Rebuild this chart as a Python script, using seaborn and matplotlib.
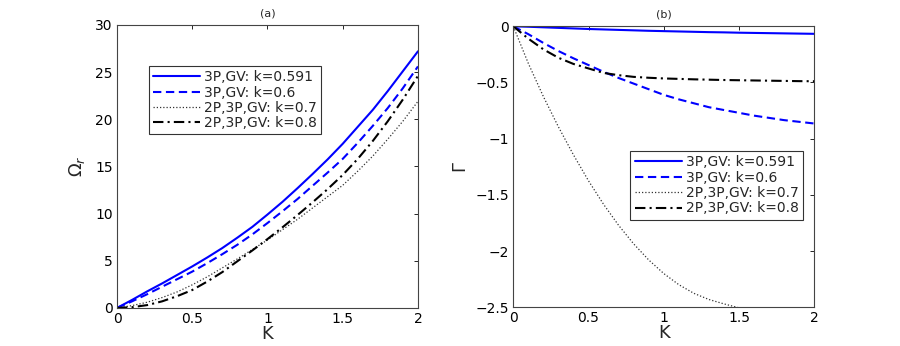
import numpy as np
import pandas as pd
import matplotlib
matplotlib.use('Agg')
import matplotlib.pyplot as plt
import seaborn as sns
from matplotlib.ticker import FuncFormatter

# K values (shared x axis)
K = [0.0, 0.1, 0.2, 0.3, 0.4, 0.5, 0.6, 0.7, 0.8, 0.9, 1.0,
     1.1, 1.2, 1.3, 1.4, 1.5, 1.6, 1.7, 1.8, 1.9, 2.0]

labels = ['3P,GV: k=0.591', '3P,GV: k=0.6', '2P,3P,GV: k=0.7', '2P,3P,GV: k=0.8']

# panel (a): Omega_r
omega_591 = [0, 0.85, 1.75, 2.6, 3.5, 4.4, 5.35, 6.35, 7.45, 8.6, 9.9,
             11.25, 12.7, 14.2, 15.75, 17.4, 19.2, 21.0, 23.0, 25.1, 27.2]
omega_06 = [0, 0.7, 1.45, 2.25, 3.05, 3.85, 4.75, 5.7, 6.7, 7.8, 9.0,
            10.25, 11.55, 12.95, 14.35, 15.8, 17.5, 19.3, 21.2, 23.3, 25.6]
omega_07 = [0, 0.25, 0.6, 1.1, 1.7, 2.45, 3.3, 4.25, 5.2, 6.2, 7.2,
            8.3, 9.4, 10.6, 11.8, 13.0, 14.5, 16.1, 17.9, 19.8, 21.9]
omega_08 = [0, 0.08, 0.3, 0.7, 1.25, 1.9, 2.8, 3.8, 4.95, 6.1, 7.3,
            8.55, 9.85, 11.2, 12.6, 14.1, 15.8, 17.7, 19.8, 22.1, 24.6]

# panel (b): Gamma
gamma_591 = [0, -0.004, -0.009, -0.014, -0.019, -0.024, -0.028, -0.032, -0.036, -0.040, -0.043,
             -0.046, -0.049, -0.052, -0.054, -0.057, -0.059, -0.061, -0.063, -0.065, -0.067]
gamma_06 = [0, -0.07, -0.148, -0.22, -0.285, -0.345, -0.405, -0.46, -0.51, -0.56, -0.61,
            -0.65, -0.685, -0.72, -0.745, -0.77, -0.795, -0.815, -0.835, -0.85, -0.865]
gamma_07 = [0, -0.33, -0.625, -0.895, -1.144, -1.375, -1.584, -1.771, -1.936, -2.079, -2.2,
            -2.299, -2.376, -2.431, -2.47, -2.505, -2.53, np.nan, np.nan, np.nan, np.nan]
gamma_08 = [0, -0.11, -0.205, -0.28, -0.335, -0.375, -0.415, -0.435, -0.45, -0.458, -0.464,
            -0.468, -0.472, -0.475, -0.478, -0.48, -0.482, -0.484, -0.486, -0.488, -0.489]

palette = {labels[0]: 'blue', labels[1]: 'blue', labels[2]: '#333333', labels[3]: 'black'}
dashes = {labels[0]: '', labels[1]: (4, 2.2), labels[2]: (1, 1.6), labels[3]: (5, 2, 1, 2)}
widths = [1.5, 1.5, 0.9, 1.5]


def make_frame(series):
    rows = []
    for lab, vals in zip(labels, series):
        for k, v in zip(K, vals):
            rows.append({'K': k, 'val': v, 'label': lab})
    return pd.DataFrame(rows)


sns.set_style('white')
plt.rcParams['font.family'] = ['DejaVu Sans']
plt.rcParams['mathtext.fontset'] = 'dejavusans'

fig = plt.figure(figsize=(9, 3.46), dpi=100)
ax1 = fig.add_axes([0.130, 0.110, 0.3344, 0.818])
ax2 = fig.add_axes([0.5703, 0.112, 0.3344, 0.812])

fmt = FuncFormatter(lambda v, p: ('%g' % v).replace('-', '\u2212'))

for ax, series, ylim, yticks in [
        (ax1, [omega_591, omega_06, omega_07, omega_08], (0, 30), [0, 5, 10, 15, 20, 25, 30]),
        (ax2, [gamma_591, gamma_06, gamma_07, gamma_08], (-2.5, 0), [-2.5, -2, -1.5, -1, -0.5, 0])]:
    df = make_frame(series)
    sns.lineplot(data=df, x='K', y='val', hue='label', style='label',
                 palette=palette, dashes=dashes, ax=ax, legend=True)
    for line, w in zip(ax.get_lines(), widths):
        line.set_linewidth(w)
    ax.set_xlim(0, 2)
    ax.set_ylim(*ylim)
    ax.set_xticks([0, 0.5, 1, 1.5, 2])
    ax.set_yticks(yticks)
    ax.xaxis.set_major_formatter(fmt)
    ax.yaxis.set_major_formatter(fmt)
    ax.tick_params(direction='in', length=3, width=0.6, top=True, right=True,
                   labelsize=10, pad=3, colors='black')
    for s in ax.spines.values():
        s.set_color('#444444')
        s.set_linewidth(0.8)
    ax.set_xlabel('K', fontsize=13, labelpad=-1)

ax1.set_ylabel(r'$\Omega_r$', fontsize=13, labelpad=6)
ax2.set_ylabel(r'$\Gamma$', fontsize=13, labelpad=4)
ax1.set_title('(a)', fontsize=8, pad=6)
ax2.set_title('(b)', fontsize=8, pad=6)

for ax, loc, anchor in [(ax1, 'upper left', (0.106, 0.855)),
                        (ax2, 'lower right', (0.963, 0.312))]:
    handles, labs = ax.get_legend_handles_labels()
    leg = ax.legend(handles, labs, loc=loc, bbox_to_anchor=anchor, fontsize=10,
                    frameon=True, fancybox=False, edgecolor='black',
                    borderaxespad=0, handlelength=3.4, handletextpad=0.3,
                    labelspacing=0.1, borderpad=0.3)
    leg.get_frame().set_linewidth(0.8)
    for line, w in zip(leg.get_lines(), widths):
        line.set_linewidth(w)

fig.savefig('out.png', dpi=100)
